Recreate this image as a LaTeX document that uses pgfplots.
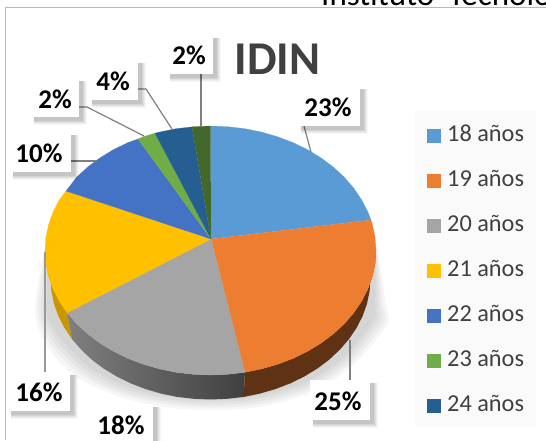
\documentclass[border=0pt]{standalone}
\usepackage{fontspec}
\setmainfont{Carlito}
\usepackage{pgfplots}
\pgfplotsset{compat=1.18}
\definecolor{cA}{HTML}{5B9BD5}
\definecolor{cB}{HTML}{ED7D31}
\definecolor{cC}{HTML}{A5A5A5}
\definecolor{cD}{HTML}{FFC000}
\definecolor{cE}{HTML}{4472C4}
\definecolor{cF}{HTML}{70AD47}
\definecolor{cG}{HTML}{255E91}
\definecolor{cH}{HTML}{43682B}
\definecolor{txt}{HTML}{404040}
\definecolor{lead}{HTML}{7F7F7F}
% label box with a soft shadow: x0,y0,x1,y1 of the box, cx,cy of the text, text
\newcommand{\lab}[7]{
  \fill[black,opacity=.03] ([shift={(3pt,-3pt)}]axis cs:#1,#2) rectangle ([shift={(8pt,-8pt)}]axis cs:#3,#4);
  \fill[black,opacity=.04] ([shift={(3pt,-3pt)}]axis cs:#1,#2) rectangle ([shift={(7pt,-7pt)}]axis cs:#3,#4);
  \fill[black,opacity=.05] ([shift={(3pt,-3pt)}]axis cs:#1,#2) rectangle ([shift={(6pt,-6pt)}]axis cs:#3,#4);
  \fill[black,opacity=.06] ([shift={(3pt,-3pt)}]axis cs:#1,#2) rectangle ([shift={(5pt,-5pt)}]axis cs:#3,#4);
  \fill[black,opacity=.07] ([shift={(3pt,-3pt)}]axis cs:#1,#2) rectangle ([shift={(4pt,-4pt)}]axis cs:#3,#4);
  \fill[white] (axis cs:#1,#2) rectangle (axis cs:#3,#4);
  \node[font=\fontsize{27}{29}\selectfont\bfseries,text=black,inner sep=0pt] at (axis cs:#5,#6) {#7};
}
\begin{document}
\begin{tikzpicture}
\path[use as bounding box,clip] (0,0) rectangle (546pt,440pt);
\begin{axis}[
  scale only axis,
  width=546pt, height=440pt,
  xmin=0, xmax=546, ymin=0, ymax=440,
  y dir=reverse,
  hide axis,
  clip=false,
  legend image code/.code={\path[#1,draw=none] (0pt,-2pt) rectangle (14pt,12pt);},
  legend cell align=left,
  legend style={
    at={(axis cs:415,111)}, anchor=north west,
    draw=none, fill=black!2,
    font=\fontsize{24.3}{26}\selectfont,
    text=txt,
    inner xsep=12pt, inner ysep=14pt,
    nodes={inner sep=0pt, text height=16pt, text depth=1pt, anchor=base west},
    /tikz/row sep=27pt,
    /tikz/column sep=6pt,
  },
]
% chart frame
\addplot[black!28,line width=1.4pt,forget plot] coordinates {(5.5,440)(5.5,7.5)(546,7.5)};

% shadow under the pie
\addplot[fill=black,opacity=.035,draw=none,smooth,forget plot] coordinates {
  (45,245)(38,285)(35,315)(48,348)(78,378)(120,397)(165,407)(210,410)(260,407)(310,393)(352,366)(387,325)(386,305)(377,245)};
\addplot[fill=black,opacity=.035,draw=none,smooth,forget plot] coordinates {
  (45,248)(40,286)(38,315)(51,345)(81,375)(122,394)(167,404)(210,407.5)(258.5,404.5)(308.5,390.5)(350,363.5)(384,323.5)(383,305)(377,248)};
\addplot[fill=black,opacity=.035,draw=none,smooth,forget plot] coordinates {
  (45.5,250)(42.5,287.5)(41,315)(54,343)(84,373)(124,392)(168,402)(210,405)(257,402)(307,388)(348,361.5)(380.5,322)(380.5,305)(376.5,250)};
\addplot[fill=black,opacity=.035,draw=none,smooth,forget plot] coordinates {
  (46,252.5)(45,289)(44,315)(57,340.5)(87,370.5)(126,389.5)(169.5,399.5)(210,402.5)(255.5,399.5)(305.5,385.5)(346,359)(377,320.5)(378,305)(376,252)};
\addplot[fill=black,opacity=.035,draw=none,smooth,forget plot] coordinates {
  (46,255)(47,290)(47,315)(60,338)(90,368)(128,387)(171,397)(210,400)(254,397)(304,383)(344,357)(374,319)(375,305)(376,255)};

% side wall
\addplot[fill=cD!78!black,draw=none,forget plot] coordinates {
  (45,250.5)(45.9,263.5)(48.6,276.4)(53.1,289.0)(59.3,301.1)(67.2,312.8)
  (71.9,339.0)(64.3,327.7)(58.3,315.9)(54.0,303.7)(51.4,291.1)(50.5,278.5)};
\addplot[shade,left color=black!50,middle color=black!68,right color=black!75,draw=none,forget plot] coordinates {
  (67.2,312.8)(76.6,323.7)(87.5,333.8)(99.8,343.0)(113.2,351.2)(127.7,358.3)(143.2,364.2)(159.4,368.9)(176.1,372.3)(193.2,374.3)(210.5,375)(227.8,374.3)(244.9,372.3)
  (243.8,396.9)(227.2,398.8)(210.5,399.5)(193.8,398.8)(177.2,396.9)(161.1,393.6)(145.4,389.0)(130.5,383.3)(116.5,376.4)(103.4,368.4)(91.6,359.5)(81.1,349.6)(71.9,339.0)};
\addplot[fill=cB!40!black,draw=none,forget plot] coordinates {
  (244.9,372.3)(261.6,368.9)(277.8,364.2)(293.3,358.3)(307.8,351.2)(321.2,343.0)(333.5,333.8)(344.4,323.7)(353.8,312.8)(361.7,301.1)(367.9,289.0)(372.4,276.4)(375.1,263.5)(376,250.5)
  (370.5,278.5)(369.6,291.1)(367.0,303.7)(362.7,315.9)(356.7,327.7)(349.1,339.0)(339.9,349.6)(329.4,359.5)(317.6,368.4)(304.5,376.4)(290.5,383.3)(275.6,389.0)(259.9,393.6)(243.8,396.9)};

% top face, one wedge per age
\addplot[fill=cA,draw=cA,line width=.2pt] coordinates {
  (211,239)(210.5,126)(227.8,126.7)(244.9,128.7)(261.6,132.1)(277.8,136.8)(293.3,142.7)(307.8,149.8)(321.2,158.0)(333.5,167.2)(344.4,177.3)(353.8,188.3)(361.7,199.9)(367.9,212.0)(371,220)};
\addlegendentry{18 años}
\addplot[fill=cB,draw=cB,line width=.2pt] coordinates {
  (211,239)(371,220)(372.4,224.6)(375.1,237.5)(376,250.5)(375.1,263.5)(372.4,276.4)(367.9,289.0)(361.7,301.1)(353.8,312.8)(344.4,323.7)(333.5,333.8)(321.2,343.0)(307.8,351.2)(293.3,358.3)(277.8,364.2)(261.6,368.9)(244.9,372.3)};
\addlegendentry{19 años}
\addplot[fill=cC,draw=cC,line width=.2pt] coordinates {
  (211,239)(244.9,372.3)(227.8,374.3)(210.5,375)(193.2,374.3)(176.1,372.3)(159.4,368.9)(143.2,364.2)(127.7,358.3)(113.2,351.2)(99.8,343.0)(87.5,333.8)(76.6,323.7)(67.2,312.8)};
\addlegendentry{20 años}
\addplot[fill=cD,draw=cD,line width=.2pt] coordinates {
  (211,239)(67.2,312.8)(59.3,301.1)(53.1,289.0)(48.6,276.4)(45.9,263.5)(45,250.5)(45.9,237.5)(48.6,224.6)(53.1,212.0)(59.3,199.9)(66,191)};
\addlegendentry{21 años}
\addplot[fill=cE,draw=cE,line width=.2pt] coordinates {
  (211,239)(66,191)(76.6,177.3)(87.5,167.2)(99.8,158.0)(113.2,149.8)(127.7,142.7)(138,139)};
\addlegendentry{22 años}
\addplot[fill=cF,draw=cF,line width=.2pt] coordinates {
  (211,239)(138,139)(143.2,136.8)(155,133.2)};
\addlegendentry{23 años}
\addplot[fill=cG,draw=cG,line width=.2pt] coordinates {
  (211,239)(155,133.2)(159.4,132.1)(176.1,128.7)(192,126.9)};
\addlegendentry{24 años}
\addplot[fill=cH,draw=cH,line width=.2pt,forget plot] coordinates {
  (211,239)(192,126.9)(193.2,126.7)(210.5,126)};

% leader lines
\addplot[lead,line width=1.2pt,forget plot] coordinates {(201,71)(201,126)};
\addplot[lead,line width=1.2pt,forget plot] coordinates {(134,89)(146,89)(172,129)};
\addplot[lead,line width=1.2pt,forget plot] coordinates {(76,107)(87,107)(144,136)};
\addplot[lead,line width=1.2pt,forget plot] coordinates {(67,161)(97,161)};
\addplot[lead,line width=1.2pt,forget plot] coordinates {(301,115)(311,152)};
\addplot[black!40,line width=1.2pt,forget plot] coordinates {(45,252)(45,374)};
\addplot[lead,line width=1.2pt,forget plot] coordinates {(350,340)(350,384)};

% data labels
\lab{167}{35}{213}{74}{189}{55}{2\%}
\lab{89}{60}{138}{100}{113}{81}{4\%}
\lab{31}{78}{79}{117}{55}{99}{2\%}
\lab{10}{132}{71}{172}{39}{153}{10\%}
\lab{298}{86}{360}{126}{328}{107}{23\%}
\lab{8}{372}{70}{411}{39}{392}{16\%}
\lab{310}{380}{370}{420}{338}{401}{25\%}
\lab{90}{404}{153}{450}{121}{425}{18\%}

\node[font=\fontsize{47}{50}\selectfont\bfseries,text=txt,inner sep=0pt] at (axis cs:277.5,59) {IDIN};
\node[font=\fontsize{33}{36}\selectfont,text=black,anchor=base west,inner sep=0pt] at (axis cs:321,5.5) {Instituto\hspace{14pt}Tecnológico};
\end{axis}
\end{tikzpicture}
\end{document}
